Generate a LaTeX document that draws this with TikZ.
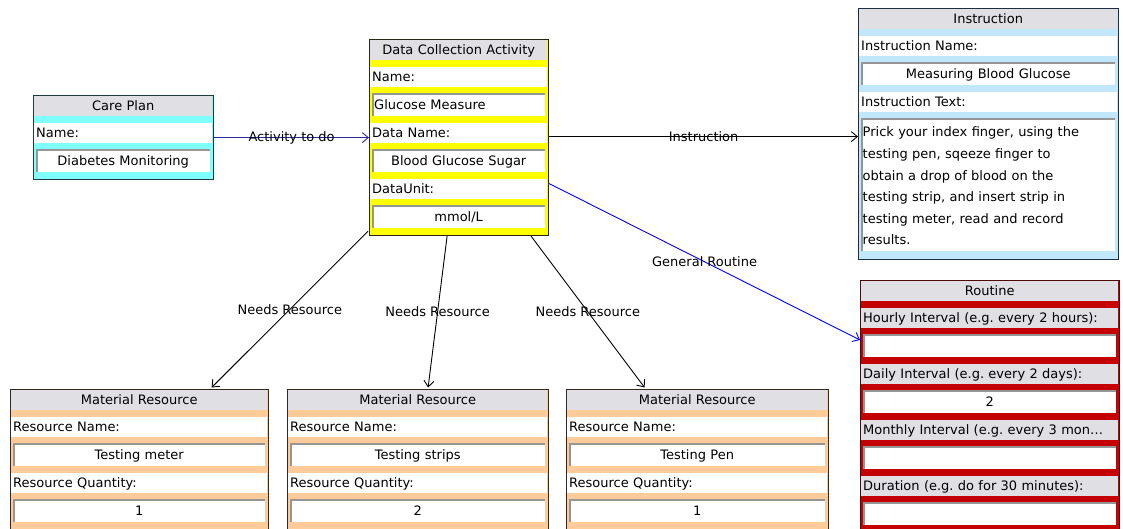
\documentclass[tikz,border=0pt]{standalone}
\usepackage{fontspec}
\setmainfont{DejaVu Sans}
\usetikzlibrary{arrows.meta}
\frenchspacing
\definecolor{hdrgray}{RGB}{224,223,228}
\definecolor{cpband}{RGB}{128,255,255}
\definecolor{dcaband}{RGB}{255,255,0}
\definecolor{insband}{RGB}{192,232,250}
\definecolor{rtband}{RGB}{196,0,0}
\definecolor{mrband}{RGB}{255,204,153}
\definecolor{cpborder}{RGB}{30,60,60}
\definecolor{dcaborder}{RGB}{40,40,20}
\definecolor{insborder}{RGB}{30,45,65}
\definecolor{rtborder}{RGB}{80,10,10}
\definecolor{mrborder}{RGB}{50,40,30}
\definecolor{sunkgray}{RGB}{150,150,150}
\definecolor{navyline}{RGB}{40,40,150}
\definecolor{blueline}{RGB}{0,0,255}
\newcommand{\uifont}{\fontsize{13pt}{15.6pt}\selectfont}
\newcommand{\rowbox}[7]{%
  \pgfmathsetmacro\rowtw{#5-4}%
  \node[#1, anchor=north west, inner xsep=2pt, inner ysep=0pt, minimum width=#5pt, minimum height=#6pt, text width=\rowtw pt] (#2) at (#3,#4) {#7};}
\newcommand{\sunken}[1]{\draw[sunk] ([xshift=0.8pt]#1.south west) -- ([xshift=0.8pt,yshift=-0.8pt]#1.north west) -- ([yshift=-0.8pt]#1.north east);}
\tikzset{
  umlbox/.style={draw, line width=1.2pt, anchor=north west, inner sep=0pt},
  hdr/.style={fill=hdrgray, font=\uifont, align=center, text height=10pt, text depth=0.5pt},
  lbl/.style={fill=white, font=\uifont, align=left, text height=10pt, text depth=0.5pt},
  glbl/.style={lbl, fill=hdrgray},
  val/.style={fill=white, font=\uifont, align=center, text height=10pt, text depth=0.5pt},
  lval/.style={val, align=left},
  sunk/.style={draw=sunkgray, line width=1.6pt},
  conn/.style={line width=0.9pt, -{Straight Barb[length=6pt,width=10pt]}},
  elabel/.style={font=\uifont, inner sep=1pt, text=black}
}
\begin{document}
\begin{tikzpicture}[x=1pt,y=-1pt]
\useasboundingbox (0,0) rectangle (1123,528);
\clip (0,0) rectangle (1123,528);
\fill[white] (0,0) rectangle (1123,528);

% Care Plan
\node[umlbox, draw=cpborder, fill=cpband, minimum width=180pt, minimum height=84pt] (cp) at (33,95) {};
\rowbox{hdr}{cp-h}{34}{96}{178}{20}{Care Plan}
\rowbox{lbl}{cp-l1}{34}{123}{178}{20}{Name:}
\rowbox{val}{cp-v1}{36}{149}{174}{23}{Diabetes Monitoring}
\sunken{cp-v1}

% Data Collection Activity
\node[umlbox, draw=dcaborder, fill=dcaband, minimum width=179pt, minimum height=196pt] (dca) at (369,39) {};
\rowbox{hdr}{dca-h}{370}{40}{177}{20}{Data Collection Activity}
\rowbox{lbl}{dca-l1}{370}{67}{177}{20}{Name:}
\rowbox{lval}{dca-v1}{372}{93}{173}{23}{Glucose Measure}
\rowbox{lbl}{dca-l2}{370}{123}{177}{20}{Data Name:}
\rowbox{val}{dca-v2}{372}{149}{173}{23}{Blood Glucose Sugar}
\rowbox{lbl}{dca-l3}{370}{179}{177}{20}{DataUnit:}
\rowbox{val}{dca-v3}{372}{205}{173}{23}{mmol/L}
\sunken{dca-v1}\sunken{dca-v2}\sunken{dca-v3}

% Instruction
\node[umlbox, draw=insborder, fill=insband, minimum width=260pt, minimum height=251pt] (ins) at (858,8) {};
\rowbox{hdr}{ins-h}{859}{9}{258}{20}{Instruction}
\rowbox{lbl}{ins-l1}{859}{36}{258}{20}{Instruction Name:}
\rowbox{val}{ins-v1}{861}{62}{254}{23}{Measuring Blood Glucose}
\rowbox{lbl}{ins-l2}{859}{92}{258}{20}{Instruction Text:}
\rowbox{val}{ins-v2}{861}{118}{254}{133}{}
\sunken{ins-v1}\sunken{ins-v2}
\node[font=\fontsize{13pt}{21.6pt}\selectfont, anchor=north west, inner sep=0pt, text width=250pt, align=left] (ins-txt) at (862.5,126.8)
  {Prick your index finger, using the\\ testing pen, sqeeze finger to\\ obtain a drop of blood on the\\ testing strip, and insert strip in\\ testing meter, read and record\\ results.};

% Routine
\node[umlbox, draw=rtborder, fill=rtband, minimum width=259pt, minimum height=270pt] (rt) at (860,280) {};
\rowbox{hdr}{rt-h}{861}{281}{257}{20}{Routine}
\rowbox{glbl}{rt-l1}{861}{308}{257}{20}{Hourly Interval (e.g. every 2 hours):}
\rowbox{val}{rt-v1}{863}{334}{253}{23}{}
\rowbox{glbl}{rt-l2}{861}{364}{257}{20}{Daily Interval (e.g. every 2 days):}
\rowbox{val}{rt-v2}{863}{390}{253}{23}{2}
\rowbox{glbl}{rt-l3}{861}{420}{257}{20}{Monthly Interval (e.g. every 3 mon…}
\rowbox{val}{rt-v3}{863}{446}{253}{23}{}
\rowbox{glbl}{rt-l4}{861}{476}{257}{20}{Duration (e.g. do for 30 minutes):}
\rowbox{val}{rt-v4}{863}{502}{253}{23}{}
\sunken{rt-v1}\sunken{rt-v2}\sunken{rt-v3}\sunken{rt-v4}

% Material Resources
\node[umlbox, draw=mrborder, fill=mrband, minimum width=258pt, minimum height=150pt] (mr1) at (10,389) {};
\rowbox{hdr}{mr1-h}{11}{390}{256}{20}{Material Resource}
\rowbox{lbl}{mr1-l1}{11}{417}{256}{20}{Resource Name:}
\rowbox{val}{mr1-v1}{13}{443}{252}{23}{Testing meter}
\rowbox{lbl}{mr1-l2}{11}{473}{256}{20}{Resource Quantity:}
\rowbox{val}{mr1-v2}{13}{499}{252}{23}{1}
\sunken{mr1-v1}\sunken{mr1-v2}

\node[umlbox, draw=mrborder, fill=mrband, minimum width=261pt, minimum height=150pt] (mr2) at (287,389) {};
\rowbox{hdr}{mr2-h}{288}{390}{259}{20}{Material Resource}
\rowbox{lbl}{mr2-l1}{288}{417}{259}{20}{Resource Name:}
\rowbox{val}{mr2-v1}{290}{443}{255}{23}{Testing strips}
\rowbox{lbl}{mr2-l2}{288}{473}{259}{20}{Resource Quantity:}
\rowbox{val}{mr2-v2}{290}{499}{255}{23}{2}
\sunken{mr2-v1}\sunken{mr2-v2}

\node[umlbox, draw=mrborder, fill=mrband, minimum width=262pt, minimum height=150pt] (mr3) at (566,389) {};
\rowbox{hdr}{mr3-h}{567}{390}{260}{20}{Material Resource}
\rowbox{lbl}{mr3-l1}{567}{417}{260}{20}{Resource Name:}
\rowbox{val}{mr3-v1}{569}{443}{256}{23}{Testing Pen}
\rowbox{lbl}{mr3-l2}{567}{473}{260}{20}{Resource Quantity:}
\rowbox{val}{mr3-v2}{569}{499}{256}{23}{1}
\sunken{mr3-v1}\sunken{mr3-v2}

% Connectors
\draw[conn, draw=navyline] (cp.east) -- (cp.east -| dca.west) node[elabel, midway] (e-act) {Activity to do};
\draw[conn] ([yshift=1pt]dca.east) -- ([yshift=1pt]dca.east -| ins.west) node[elabel, midway] (e-ins) {Instruction};
\draw[conn, draw=blueline] ([yshift=-46pt]dca.east) -- ([yshift=-60pt]rt.north west) node[elabel, midway] (e-rt) {General Routine};
\draw[conn] ([xshift=-1pt,yshift=5pt]dca.south west) -- ([xshift=72pt,yshift=1.5pt]mr1.north) node[elabel, midway] (e-mr1) {Needs Resource};
\draw[conn] ([xshift=-12pt]dca.south) -- ([xshift=10pt,yshift=1.5pt]mr2.north) node[elabel, midway] (e-mr2) {Needs Resource};
\draw[conn] ([xshift=72pt]dca.south) -- ([xshift=-53pt,yshift=1.5pt]mr3.north) node[elabel, midway] (e-mr3) {Needs Resource};
\end{tikzpicture}
\end{document}
